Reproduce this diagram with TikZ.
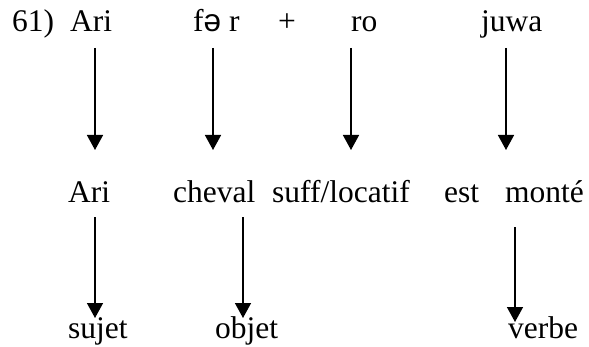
\documentclass[tikz,border=0pt]{standalone}
\usepackage{fontspec}
\setmainfont{Liberation Serif}
\newfontfamily\schwafont{Liberation Sans}
\usetikzlibrary{arrows.meta}
\tikzset{
  word/.style={anchor=base west, inner sep=0pt, font=\fontsize{31.5}{36}\selectfont},
  arr/.style={line width=1.5pt, -{Triangle[width=16pt,length=15pt]}}
}
\begin{document}
\begin{tikzpicture}[x=1pt,y=1pt]
\useasboundingbox (0,0) rectangle (589,346);
% row 1
\node[word] (n61) at (12,314) {61)};
\node[word] (ari1) at (70,314) {Ari};
\node[word] (fer) at (193,314) {f{\schwafont ə} r};
\node[word] (plus) at (278,314) {+};
\node[word] (ro) at (351,314) {ro};
\node[word] (juwa) at (481,314) {juwa};
% row 2
\node[word] (ari2) at (68,144) {Ari};
\node[word] (cheval) at (173,144) {cheval};
\node[word] (suff) at (272,144) {suff/locatif};
\node[word] (est) at (444,144) {est};
\node[word] (monte) at (505,144) {monté};
% row 3
\node[word] (sujet) at (68,8) {sujet};
\node[word] (objet) at (215,8) {objet};
\node[word] (verbe) at (508,8) {verbe};
% arrow ends
\coordinate (a1s) at (95,298); \coordinate (a1e) at (95,196);
\coordinate (a2s) at (213,298); \coordinate (a2e) at (213,196);
\coordinate (a3s) at (351,298); \coordinate (a3e) at (351,196);
\coordinate (a4s) at (506,298); \coordinate (a4e) at (506,196);
\coordinate (b1s) at (95,129); \coordinate (b1e) at (95,28);
\coordinate (b2s) at (243,129); \coordinate (b2e) at (243,28);
\coordinate (b3s) at (515,119); \coordinate (b3e) at (515,24);
\draw[arr] (a1s) -- (a1e);
\draw[arr] (a2s) -- (a2e);
\draw[arr] (a3s) -- (a3e);
\draw[arr] (a4s) -- (a4e);
\draw[arr] (b1s) -- (b1e);
\draw[arr] (b2s) -- (b2e);
\draw[arr] (b3s) -- (b3e);
\end{tikzpicture}
\end{document}
